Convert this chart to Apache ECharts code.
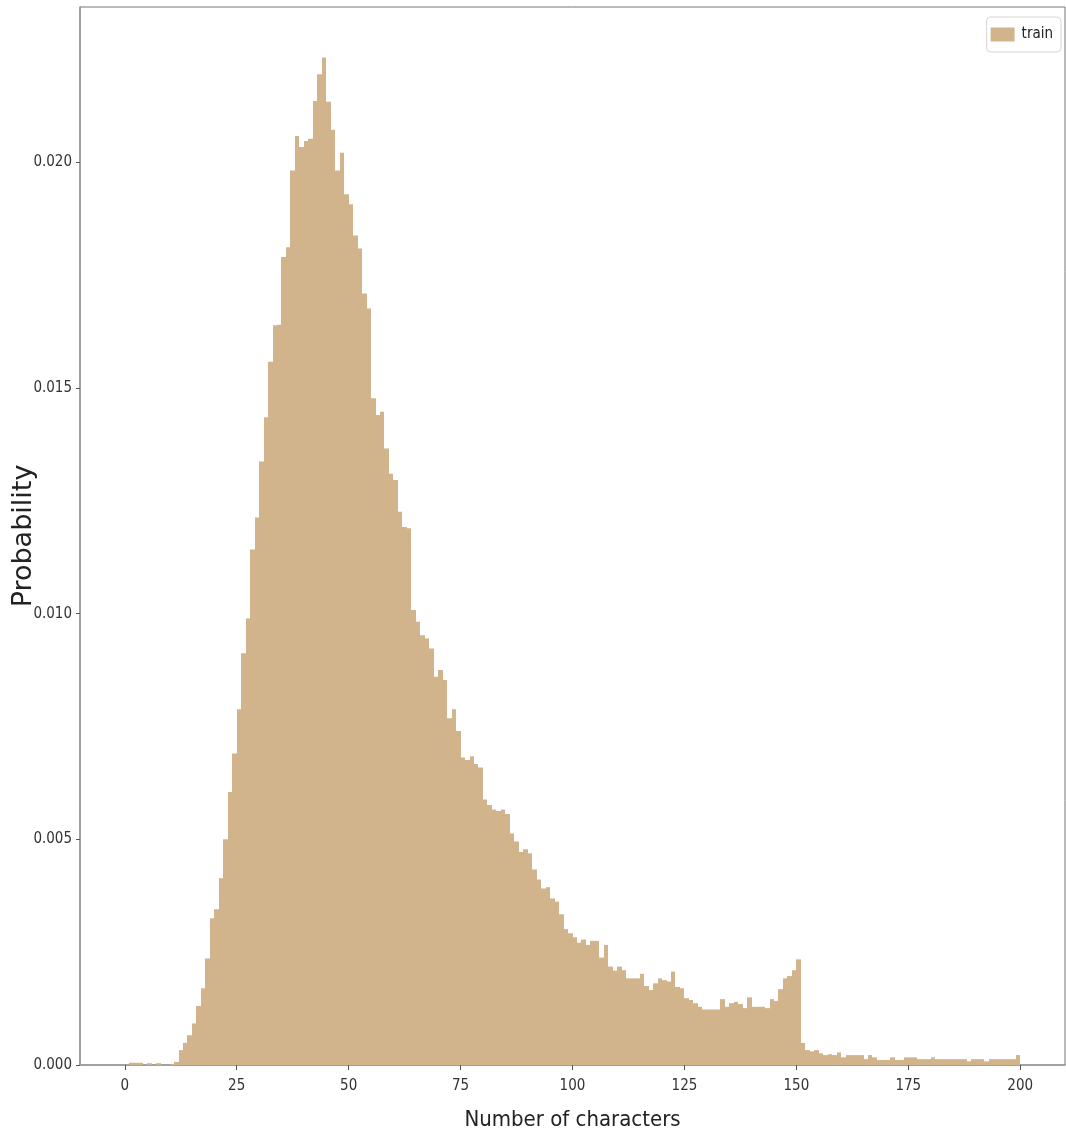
<!DOCTYPE html>
<html>
<head>
<meta charset="utf-8">
<script src="https://cdn.jsdelivr.net/npm/echarts@6/dist/echarts.min.js"></script>
<style>
html,body{margin:0;padding:0;background:#fff;}
#chart{width:1066px;height:1140px;}
</style>
</head>
<body>
<div id="chart"></div>
<script>
// Histogram bins: left edge of each 1-character bin
const binStart = [
  0,1,2,3,4,5,6,7,8,9,10,11,12,13,14,15,16,17,18,19,
  20,21,22,23,24,25,26,27,28,29,30,31,32,33,34,35,36,37,38,39,
  40,41,42,43,44,45,46,47,48,49,50,51,52,53,54,55,56,57,58,59,
  60,61,62,63,64,65,66,67,68,69,70,71,72,73,74,75,76,77,78,79,
  80,81,82,83,84,85,86,87,88,89,90,91,92,93,94,95,96,97,98,99,
  100,101,102,103,104,105,106,107,108,109,110,111,112,113,114,115,116,117,118,119,
  120,121,122,123,124,125,126,127,128,129,130,131,132,133,134,135,136,137,138,139,
  140,141,142,143,144,145,146,147,148,149,150,151,152,153,154,155,156,157,158,159,
  160,161,162,163,164,165,166,167,168,169,170,171,172,173,174,175,176,177,178,179,
  180,181,182,183,184,185,186,187,188,189,190,191,192,193,194,195,196,197,198,199
];
const BIN_WIDTH = 1;

// Probability (density) of each bin, series "train"
const probability = [
  0, 0.00005, 0.00005, 0.00005, 0, 0.00004, 0, 0.00004, 0, 0,
  0.00002, 0.00007, 0.00033, 0.00049, 0.00066, 0.00092, 0.00131, 0.00170, 0.00236, 0.00325,
  0.00345, 0.00414, 0.00500, 0.00605, 0.00690, 0.00788, 0.00912, 0.00989, 0.01142, 0.01213,
  0.01337, 0.01435, 0.01558, 0.01639, 0.01640, 0.01790, 0.01812, 0.01982, 0.02058, 0.02034,
  0.02047, 0.02052, 0.02136, 0.02195, 0.02232, 0.02134, 0.02072, 0.01982, 0.02021, 0.01929,
  0.01907, 0.01838, 0.01809, 0.01709, 0.01676, 0.01477, 0.01440, 0.01447, 0.01366, 0.01310,
  0.01296, 0.01226, 0.01192, 0.01189, 0.01008, 0.00982, 0.00952, 0.00945, 0.00923, 0.00860,
  0.00875, 0.00853, 0.00768, 0.00788, 0.00740, 0.00681, 0.00676, 0.00684, 0.00667, 0.00659,
  0.00588, 0.00576, 0.00566, 0.00563, 0.00566, 0.00556, 0.00513, 0.00495, 0.00472, 0.00478,
  0.00469, 0.00433, 0.00411, 0.00391, 0.00394, 0.00369, 0.00362, 0.00334, 0.00301, 0.00292,
  0.00283, 0.00271, 0.00278, 0.00266, 0.00275, 0.00275, 0.00238, 0.00266, 0.00218, 0.00209,
  0.00218, 0.00210, 0.00192, 0.00192, 0.00192, 0.00202, 0.00175, 0.00166, 0.00181, 0.00192,
  0.00188, 0.00185, 0.00207, 0.00173, 0.00170, 0.00148, 0.00144, 0.00137, 0.00129, 0.00123,
  0.00123, 0.00123, 0.00123, 0.00146, 0.00129, 0.00137, 0.00140, 0.00135, 0.00126, 0.00150,
  0.00129, 0.00129, 0.00129, 0.00126, 0.00146, 0.00142, 0.00168, 0.00192, 0.00197, 0.00210,
  0.00234, 0.00049, 0.00033, 0.00030, 0.00033, 0.00026, 0.00022, 0.00024, 0.00022, 0.00028,
  0.00017, 0.00022, 0.00022, 0.00022, 0.00022, 0.00013, 0.00022, 0.00017, 0.00011, 0.00011,
  0.00011, 0.00017, 0.00011, 0.00011, 0.00017, 0.00017, 0.00017, 0.00013, 0.00013, 0.00013,
  0.00017, 0.00013, 0.00013, 0.00013, 0.00013, 0.00013, 0.00013, 0.00013, 0.00008, 0.00013,
  0.00013, 0.00013, 0.00008, 0.00013, 0.00013, 0.00013, 0.00013, 0.00013, 0.00013, 0.00022
];

const xTickValues = [0, 25, 50, 75, 100, 125, 150, 175, 200];
const yTickValues = [0, 0.005, 0.010, 0.015, 0.020];

const BAR_COLOR = '#D2B48C';
const NARROW = '"Liberation Sans Narrow", "DejaVu Sans Condensed", "Arial Narrow", "Liberation Sans", sans-serif';

const chart = echarts.init(document.getElementById('chart'), null, {renderer: 'canvas'});

const histData = binStart.map((b, i) => [b, probability[i]]);

const option = {
  backgroundColor: '#ffffff',
  animation: false,
  grid: {
    left: 80, right: 1, top: 7, bottom: 75,
    show: true, borderColor: '#777', borderWidth: 1,
    containLabel: false,
    outerBoundsMode: 'none'
  },
  legend: {
    right: 5, top: 17,
    orient: 'vertical',
    backgroundColor: '#fff',
    borderColor: '#d6d6d6', borderWidth: 1, borderRadius: 4,
    padding: [10, 8, 10, 4],
    itemWidth: 24, itemHeight: 14, itemGap: 6,
    icon: 'rect',
    textStyle: {fontFamily: NARROW, fontSize: 15, color: '#222', padding: [0, 0, 0, 2]},
    data: [{name: 'train', itemStyle: {color: BAR_COLOR}}]
  },
  xAxis: {
    type: 'value',
    min: -10, max: 210,
    name: 'Number of characters',
    nameLocation: 'middle',
    nameGap: 44,
    nameMoveOverlap: false,
    nameTextStyle: {fontFamily: NARROW, fontSize: 22, color: '#222'},
    splitLine: {show: false},
    axisLine: {show: true, onZero: false, lineStyle: {color: '#999', width: 1.5}},
    axisTick: {show: true, length: 5, customValues: xTickValues, lineStyle: {color: '#555'}},
    axisLabel: {
      customValues: xTickValues,
      fontFamily: NARROW, fontSize: 15, color: '#333', margin: 14,
      formatter: v => String(v)
    }
  },
  yAxis: {
    type: 'value',
    min: 0, max: 0.02344,
    name: 'Probability',
    nameLocation: 'middle',
    nameGap: 43,
    nameMoveOverlap: false,
    nameRotate: 90,
    nameTextStyle: {fontFamily: '"DejaVu Sans", sans-serif', fontSize: 27, color: '#222'},
    splitLine: {show: false},
    axisLine: {show: true, onZero: false, lineStyle: {color: '#999', width: 1.5}},
    axisTick: {show: true, length: 4, customValues: yTickValues, lineStyle: {color: '#555'}},
    axisLabel: {
      customValues: yTickValues,
      fontFamily: NARROW, fontSize: 15, color: '#333', margin: 8,
      formatter: v => v.toFixed(3)
    }
  },
  series: [{
    name: 'train',
    type: 'custom',
    clip: true,
    itemStyle: {color: BAR_COLOR},
    encode: {x: 0, y: 1},
    data: histData,
    renderItem: function (params, api) {
      const x0 = api.value(0);
      const v = api.value(1);
      if (!v) return null;
      const pTop = api.coord([x0, v]);
      const pBot = api.coord([x0 + BIN_WIDTH, 0]);
      const left = Math.round(pTop[0]);
      const right = Math.round(pBot[0]);
      return {
        type: 'rect',
        shape: {x: left, y: pTop[1], width: right - left, height: pBot[1] - pTop[1]},
        style: {fill: BAR_COLOR}
      };
    }
  }]
};

chart.setOption(option);
</script>
</body>
</html>
